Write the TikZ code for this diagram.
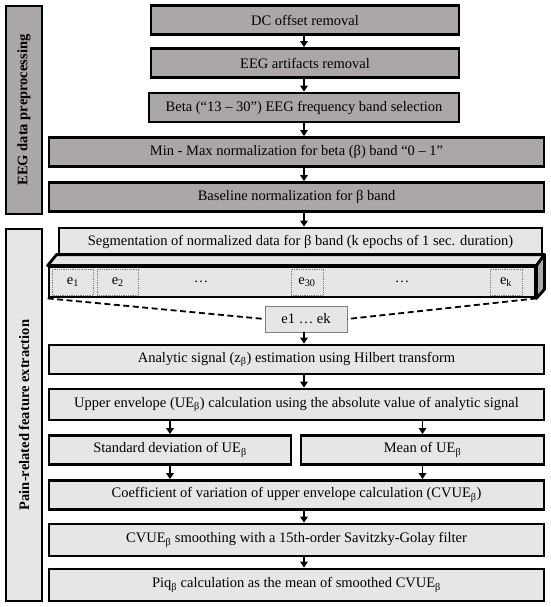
\documentclass[tikz,border=0pt]{standalone}
\usepackage{fontspec}
\setmainfont{Liberation Serif}
\usepackage{tikz}
\usetikzlibrary{positioning, arrows.meta, calc}
\definecolor{prepgray}{HTML}{ABA7A6}
\definecolor{featgray}{HTML}{E6E6E6}
\definecolor{sidegray}{HTML}{A9A9A9}
\tikzset{
  prepbox/.style={
    draw, line width=2.8pt, fill=prepgray,
    minimum height=29pt, inner sep=0pt,
    align=center, font=\fontsize{14.5}{17}\selectfont
  },
  featbox/.style={
    draw, line width=2.8pt, fill=featgray,
    minimum height=29pt, inner sep=0pt,
    align=center, font=\fontsize{14.5}{17}\selectfont
  },
  sidelabel/.style={
    draw, line width=2.8pt, minimum height=36pt, inner sep=0pt,
    rotate=90, font=\fontsize{14.5}{17}\selectfont\bfseries
  },
  epoch/.style={
    draw=gray, densely dotted, line width=0.8pt, fill=featgray,
    minimum width=41pt, minimum height=26pt, inner sep=0pt,
    font=\fontsize{14.5}{17}\selectfont
  },
  arr/.style={-{Triangle[length=6pt,width=7.5pt]}, line width=1.8pt},
  link/.style={dash pattern=on 6pt off 3.5pt, line width=1.8pt}
}

\begin{document}
\begin{tikzpicture}[x=1pt, y=-1pt]
\useasboundingbox (0,0) rectangle (550,607);

%% side labels
\node[sidelabel, fill=prepgray, minimum width=208pt] (prep) at (24,110) {EEG data preprocessing};
\node[sidelabel, fill=featgray, minimum width=372pt] (feat) at (24,415) {Pain-related feature extraction};

%% preprocessing
\node[prepbox, minimum width=308pt] (dc) at (305,20) {DC offset removal};
\node[prepbox, minimum width=308pt] (art) at (305,63) {EEG artifacts removal};
\node[prepbox, minimum width=310pt] (beta) at (304,107.5) {Beta (“13 – 30”) EEG frequency band selection};
\node[prepbox, minimum width=495pt] (minmax) at (296.5,152) {Min - Max normalization for beta (β) band “0 – 1”};
\node[prepbox, minimum width=495pt] (base) at (296.5,197) {Baseline normalization for β band};

%% segmentation bar
\node[featbox, minimum width=483pt, minimum height=28pt] (seg) at (300.5,242) {Segmentation of normalized data for β band (k epochs of 1 sec. duration)};
\node[featbox, minimum width=486pt, minimum height=30pt] (bar) at (292,282) {};
\coordinate (tl) at ($(bar.north west)+(9,-11)$);
\coordinate (tr) at ($(bar.north east)+(8,-11)$);
\coordinate (br) at ($(bar.south east)+(8,-9)$);
\filldraw[fill=featgray, line width=2.8pt, line join=round] (bar.north west) -- (tl) -- (tr) -- (bar.north east) -- cycle;
\filldraw[fill=sidegray, line width=2.8pt, line join=round] (bar.north east) -- (tr) -- (br) -- (bar.south east) -- cycle;
\node[featbox, minimum width=486pt, minimum height=30pt] at (bar) {};

\node[epoch] (e1) at (73,282) {e\textsubscript{1}};
\node[epoch, right=3pt of e1] (e2) {e\textsubscript{2}};
\node[font=\fontsize{14.5}{17}\selectfont] (dots1) at (201,282) {…};
\node[epoch, minimum width=32pt] (e30) at (307,282) {e\textsubscript{30}};
\node[font=\fontsize{14.5}{17}\selectfont] (dots2) at (402,282) {…};
\node[epoch, minimum width=32pt] (ek) at (506,282) {e\textsubscript{k}};

\node[draw=gray, line width=0.8pt, fill=featgray, minimum width=82pt, minimum height=26pt,
  inner sep=0pt, font=\fontsize{14.5}{17}\selectfont] (eks) at (306,319) {e1 … ek};
\draw[link] (bar.south west) -- (eks.west);
\draw[link] (bar.south east) -- (eks.east);

%% feature extraction
\node[featbox, minimum width=495pt] (hil) at (296.5,359.5) {Analytic signal (z\textsubscript{β}) estimation using Hilbert transform};
\node[featbox, minimum width=495pt, minimum height=31pt] (env) at (296.5,404.5) {Upper envelope (UE\textsubscript{β}) calculation using the absolute value of analytic signal};
\node[featbox, minimum width=242pt] (std) at (170,450) {Standard deviation of UE\textsubscript{β}};
\node[featbox, minimum width=243pt] (mean) at (422.5,450) {Mean of UE\textsubscript{β}};
\node[featbox, minimum width=495pt] (cv) at (296.5,495) {Coefficient of variation of upper envelope calculation (CVUE\textsubscript{β})};
\node[featbox, minimum width=495pt, minimum height=32pt] (smooth) at (296.5,540) {CVUE\textsubscript{β} smoothing with a 15th-order Savitzky-Golay filter};
\node[featbox, minimum width=495pt, minimum height=32pt] (piq) at (296.5,585) {Piq\textsubscript{β} calculation as the mean of smoothed CVUE\textsubscript{β}};

%% arrows
\coordinate (col) at (304,0);
\draw[arr] (dc.south -| col) -- (art.north -| col);
\draw[arr] (art.south -| col) -- (beta.north -| col);
\draw[arr] (beta.south -| col) -- (minmax.north -| col);
\draw[arr] (minmax.south -| col) -- (base.north -| col);
\draw[arr] (base.south -| col) -- (seg.north -| col);
\draw[arr] (eks.south -| col) -- (hil.north -| col);
\draw[arr] (hil.south -| col) -- (env.north -| col);
\draw[arr] (env.south -| std) -- (std.north);
\draw[arr] (env.south -| mean) -- (mean.north);
\draw[arr] (std.south) -- (cv.north -| std);
\draw[arr] (mean.south) -- (cv.north -| mean);
\draw[arr] (cv.south -| col) -- (smooth.north -| col);
\draw[arr] (smooth.south -| col) -- (piq.north -| col);

\end{tikzpicture}
\end{document}
